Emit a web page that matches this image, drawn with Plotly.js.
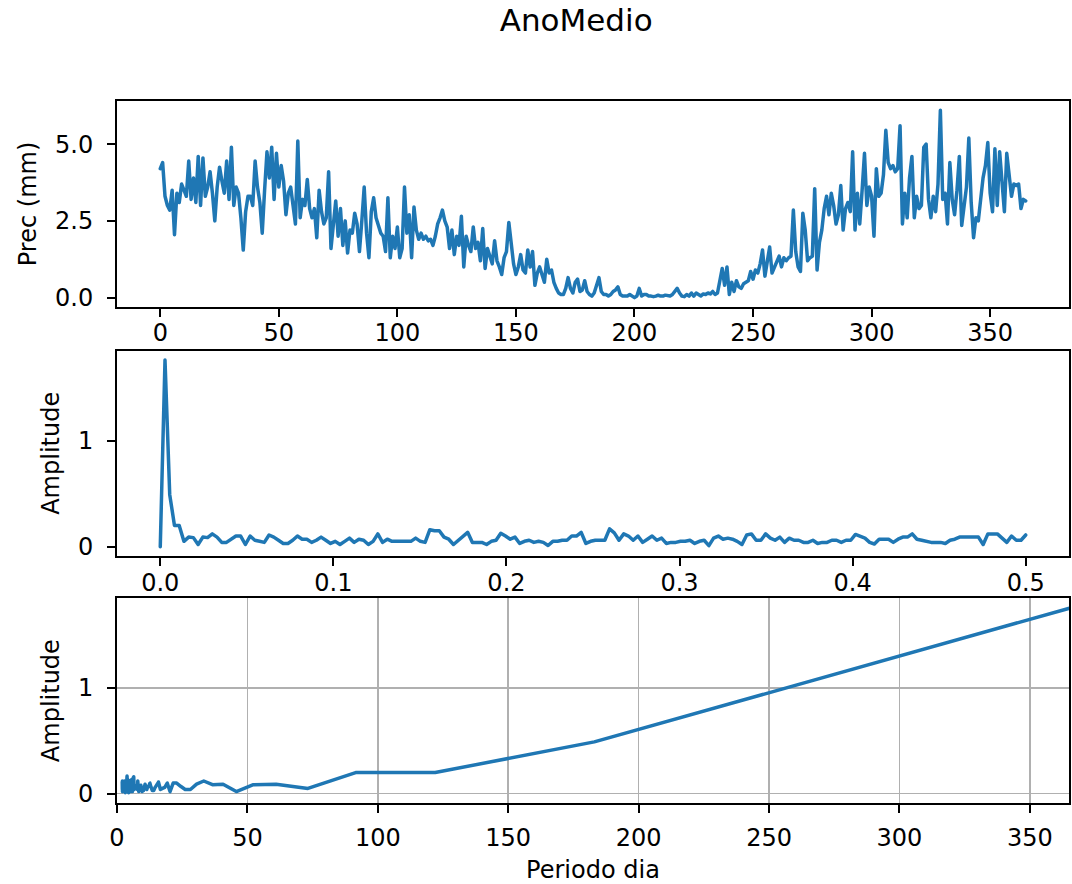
<!DOCTYPE html>
<html>
<head>
<meta charset="utf-8">
<script src="https://cdn.plot.ly/plotly-3.0.1.min.js"></script>
<style>
  html, body { margin: 0; padding: 0; background: #fff; }
  #chart { width: 1072px; height: 884px; }
  #chart .scatterlayer path.js-line { stroke-linejoin: round; stroke-linecap: round; }
</style>
</head>
<body>
<div id="chart"></div>
<script>
// Daily mean precipitation (mm), day 0..365
const prec = [
  4.2, 4.4, 3.3, 3.0, 2.85, 3.5, 2.05, 3.4, 3.1, 3.7,
  3.5, 3.3, 4.45, 3.2, 3.9, 3.1, 4.6, 3.0, 4.55, 3.3,
  3.6, 4.1, 3.4, 2.5, 3.6, 4.25, 3.8, 3.4, 4.45, 3.2,
  4.9, 3.0, 3.6, 3.4, 2.6, 1.55, 2.8, 3.3, 3.3, 3.0,
  4.45, 3.6, 3.1, 2.1, 3.5, 4.75, 3.9, 4.9, 3.2, 4.7,
  3.6, 4.3, 3.8, 2.7, 3.4, 3.6, 3.0, 2.4, 5.1, 2.6,
  3.2, 3.0, 3.85, 2.9, 2.6, 2.9, 1.95, 3.5, 2.8, 2.4,
  2.6, 4.1, 1.6, 2.5, 3.15, 2.0, 2.9, 1.7, 2.5, 1.45,
  2.2, 2.1, 2.75, 2.4, 1.5, 2.5, 3.6, 2.1, 1.3, 2.8,
  3.25, 2.6, 2.3, 2.1, 2.0, 1.5, 3.25, 1.3, 2.0, 1.6,
  2.3, 1.3, 1.6, 3.6, 2.1, 2.7, 1.3, 2.95, 2.2, 1.9,
  2.1, 1.9, 2.0, 1.85, 1.9, 1.7, 2.0, 2.4, 2.6, 2.85,
  2.5, 2.3, 1.6, 2.2, 1.4, 2.0, 1.7, 2.65, 1.0, 2.0,
  1.7, 1.5, 2.3, 1.6, 1.8, 1.2, 2.25, 0.95, 1.6, 1.3,
  1.1, 1.85, 1.2, 1.0, 0.75, 1.3, 1.5, 2.45, 1.8, 1.1,
  0.75, 1.0, 1.4, 0.9, 0.8, 1.55, 1.0, 1.5, 0.4, 0.8,
  1.0, 0.7, 0.5, 1.25, 0.8, 0.9, 0.5, 0.3, 0.15, 0.1,
  0.1, 0.3, 0.65, 0.3, 0.15, 0.5, 0.6, 0.2, 0.25, 0.55,
  0.2, 0.1, 0.05, 0.15, 0.4, 0.65, 0.2, 0.1, 0.1, 0.05,
  0.1, 0.2, 0.25, 0.35, 0.1, 0.05, 0.05, 0.05, 0.1, 0.05,
  0.0, 0.05, 0.3, 0.05, 0.1, 0.1, 0.05, 0.05, 0.03, 0.05,
  0.08, 0.05, 0.05, 0.08, 0.05, 0.05, 0.1, 0.2, 0.3, 0.15,
  0.05, 0.03, 0.1, 0.05, 0.15, 0.05, 0.15, 0.1, 0.05, 0.12,
  0.1, 0.15, 0.12, 0.2, 0.1, 0.15, 0.5, 0.95, 0.4, 1.0,
  0.1, 0.5, 0.2, 0.55, 0.35, 0.3, 0.45, 0.5, 0.55, 0.85,
  0.6, 0.9, 0.8, 1.1, 1.55, 0.7, 1.2, 1.65, 0.8, 1.0,
  1.2, 1.35, 1.0, 1.3, 1.2, 1.3, 1.35, 2.85, 1.5, 1.0,
  0.85, 2.75, 2.2, 1.2, 1.3, 1.35, 3.55, 0.9, 1.8, 2.2,
  2.9, 3.3, 2.7, 3.4, 3.0, 2.4, 2.7, 3.65, 2.2, 2.9,
  3.1, 2.8, 4.75, 2.2, 3.4, 2.4, 3.5, 4.7, 3.0, 3.6,
  3.3, 2.0, 4.2, 3.3, 3.4, 4.0, 5.45, 4.4, 4.2, 4.3,
  4.1, 4.2, 5.6, 2.4, 3.4, 2.6, 3.9, 4.6, 2.6, 3.3,
  2.9, 3.0, 4.9, 5.0, 3.2, 2.6, 3.3, 2.8, 3.7, 6.1,
  3.2, 3.4, 2.4, 4.4, 3.2, 2.7, 3.5, 4.6, 2.35, 3.0,
  3.6, 5.2, 3.1, 1.95, 2.6, 2.5, 3.3, 3.9, 4.3, 5.05,
  3.4, 2.8, 4.85, 3.0, 4.75, 3.6, 2.8, 4.7, 4.0, 3.3,
  3.7, 3.65, 3.7, 2.9, 3.2, 3.15
];

// FFT amplitude for frequency bins k = 0..183 (cycles per day = k / 366)
const amplitude = [
  0.0, 1.76, 0.49, 0.20, 0.20, 0.05, 0.09, 0.085, 0.02, 0.09,
  0.085, 0.12, 0.09, 0.04, 0.04, 0.07, 0.10, 0.10, 0.02, 0.10,
  0.06, 0.05, 0.04, 0.11, 0.09, 0.06, 0.03, 0.03, 0.06, 0.10,
  0.07, 0.07, 0.04, 0.06, 0.09, 0.06, 0.03, 0.05, 0.02, 0.05,
  0.08, 0.04, 0.07, 0.06, 0.02, 0.05, 0.12, 0.04, 0.07, 0.05,
  0.05, 0.05, 0.05, 0.05, 0.08, 0.05, 0.04, 0.16, 0.15, 0.15,
  0.09, 0.07, 0.02, 0.06, 0.09, 0.135, 0.04, 0.04, 0.04, 0.02,
  0.05, 0.06, 0.126, 0.10, 0.07, 0.09, 0.03, 0.05, 0.06, 0.04,
  0.05, 0.04, 0.01, 0.05, 0.05, 0.06, 0.06, 0.10, 0.10, 0.135,
  0.03, 0.05, 0.06, 0.06, 0.06, 0.167, 0.13, 0.06, 0.12, 0.10,
  0.06, 0.10, 0.04, 0.07, 0.10, 0.06, 0.08, 0.03, 0.04, 0.04,
  0.05, 0.05, 0.06, 0.03, 0.05, 0.06, 0.01, 0.08, 0.10, 0.07,
  0.08, 0.07, 0.05, 0.02, 0.11, 0.12, 0.06, 0.06, 0.12, 0.08,
  0.06, 0.09, 0.04, 0.08, 0.06, 0.06, 0.04, 0.04, 0.06, 0.03,
  0.04, 0.04, 0.06, 0.06, 0.04, 0.06, 0.06, 0.115, 0.10, 0.08,
  0.04, 0.025, 0.07, 0.07, 0.07, 0.04, 0.07, 0.09, 0.09, 0.12,
  0.07, 0.06, 0.05, 0.04, 0.04, 0.04, 0.03, 0.06, 0.07, 0.09,
  0.09, 0.09, 0.09, 0.09, 0.02, 0.12, 0.12, 0.12, 0.08, 0.04,
  0.10, 0.06, 0.06, 0.11
];

const days = prec.map((_, i) => i);
const nDays = prec.length;
const freq = amplitude.map((_, k) => k / nDays);
const periodX = freq.slice(1).map(f => 1 / f);
const periodAmp = amplitude.slice(1);

const titleText = "AnoMedio";
const ylab1 = "Prec (mm)";
const ylab2 = "Amplitude";
const xlab3 = "Periodo dia";

const blue = "#1f77b4";
const font = { family: "DejaVu Sans, sans-serif", size: 24, color: "#000" };
const lw = 3.5;

const traces = [
  { x: days, y: prec, type: "scatter", mode: "lines", line: { color: blue, width: lw }, xaxis: "x", yaxis: "y", hoverinfo: "skip" },
  { x: freq, y: amplitude, type: "scatter", mode: "lines", line: { color: blue, width: lw }, xaxis: "x2", yaxis: "y2", hoverinfo: "skip" },
  { x: periodX, y: periodAmp, type: "scatter", mode: "lines", line: { color: blue, width: lw }, xaxis: "x3", yaxis: "y3", hoverinfo: "skip" }
];

const baseAxis = {
  showline: true, linecolor: "#000", linewidth: 2, mirror: true,
  ticks: "outside", ticklen: 8, tickwidth: 2, tickcolor: "#000",
  showgrid: false, zeroline: false, tickfont: font,
  fixedrange: true
};

const layout = {
  width: 1072, height: 884,
  margin: { l: 117, r: 3, t: 101, b: 81 },
  paper_bgcolor: "#fff", plot_bgcolor: "#fff",
  showlegend: false,
  font: font,
  title: { text: titleText, font: { family: "DejaVu Sans, sans-serif", size: 31, color: "#000" },
           xref: "container", yref: "container", x: 0.5375, y: 0.977, xanchor: "center", yanchor: "middle" },
  xaxis: Object.assign({}, baseAxis, { domain: [0, 1], anchor: "y", range: [-18.25, 383.25], tickvals: [0, 50, 100, 150, 200, 250, 300, 350],
    ticklabelstandoff: -5 }),
  yaxis: Object.assign({}, baseAxis, { domain: [0.7066, 1], anchor: "x", range: [-0.305, 6.405], tickvals: [0, 2.5, 5.0], tickformat: ".1f",
    ticklabelstandoff: 9, title: { text: ylab1, font: font, standoff: 12 } }),
  xaxis2: Object.assign({}, baseAxis, { domain: [0, 1], anchor: "y2", range: [-0.025, 0.525], tickvals: [0, 0.1, 0.2, 0.3, 0.4, 0.5], tickformat: ".1f",
    ticklabelstandoff: -4 }),
  yaxis2: Object.assign({}, baseAxis, { domain: [0.3519, 0.6443], anchor: "x2", range: [-0.088, 1.848], tickvals: [0, 1],
    ticklabelstandoff: 9, title: { text: ylab2, font: font, standoff: 12 } }),
  xaxis3: Object.assign({}, baseAxis, { domain: [0, 1], anchor: "y3", range: [0, 365], tickvals: [0, 50, 100, 150, 200, 250, 300, 350],
    ticklabelstandoff: 4, showgrid: true, gridcolor: "#b0b0b0", gridwidth: 1.6,
    title: { text: xlab3, font: font, standoff: 10 } }),
  yaxis3: Object.assign({}, baseAxis, { domain: [0, 0.2916], anchor: "x3", range: [-0.088, 1.848], tickvals: [0, 1],
    ticklabelstandoff: 9, showgrid: true, gridcolor: "#b0b0b0", gridwidth: 1.6,
    title: { text: ylab2, font: font, standoff: 12 } })
};

Plotly.newPlot("chart", traces, layout, { staticPlot: true, displayModeBar: false });
</script>
</body>
</html>
